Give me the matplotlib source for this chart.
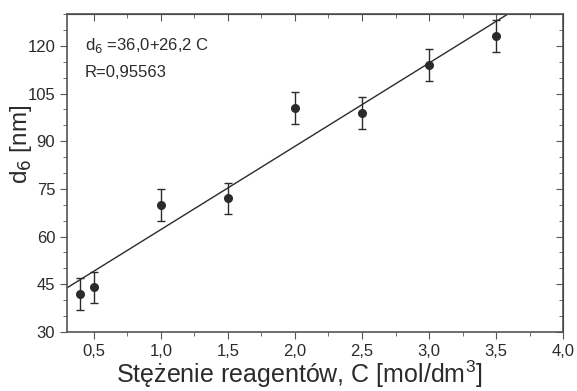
import matplotlib
matplotlib.use("Agg")
import matplotlib.pyplot as plt
import numpy as np
from matplotlib.ticker import MultipleLocator, FuncFormatter

plt.rcParams['font.family'] = ['Liberation Sans', 'DejaVu Sans']

# data
conc = [0.4, 0.5, 1.0, 1.5, 2.0, 2.5, 3.0, 3.5]
d6 = [42, 44, 70, 72, 100.5, 99, 114, 123]
err = [5, 5, 5, 5, 5, 5, 5, 5]
fit_a, fit_b = 36.0, 26.2
fit_x = [0.3, 4.0]

ink = '#2b2b2b'

fig = plt.figure(figsize=(5.77, 3.91), dpi=100)
ax = fig.add_axes([0.116, 0.151, 0.86, 0.813])

fx = np.array(fit_x)
ax.plot(fx, fit_a + fit_b * fx, color=ink, lw=1.0)
ax.errorbar(conc, d6, yerr=err, fmt='o', color=ink, ms=5.5, elinewidth=1.0,
            capsize=3, capthick=1.0)

ax.set_xlim(0.3, 4.0)
ax.set_ylim(30, 130)
ax.xaxis.set_major_locator(MultipleLocator(0.5))
ax.xaxis.set_minor_locator(MultipleLocator(0.25))
ax.yaxis.set_major_locator(MultipleLocator(15))
ax.yaxis.set_minor_locator(MultipleLocator(5))
ax.xaxis.set_major_formatter(FuncFormatter(lambda v, p: f"{v:.1f}".replace('.', ',')))

for s in ax.spines.values():
    s.set_color('#555555')
    s.set_linewidth(1.2)

ax.tick_params(which='both', direction='out', colors='#555555', labelcolor=ink,
               labelsize=12)
ax.tick_params(which='major', length=5)
ax.tick_params(which='minor', length=3)

axt = ax.secondary_xaxis('top')
axt.xaxis.set_major_locator(MultipleLocator(0.5))
axt.xaxis.set_minor_locator(MultipleLocator(0.25))
axt.tick_params(which='both', direction='in', colors='#555555', labeltop=False)
axt.tick_params(which='major', length=5)
axt.tick_params(which='minor', length=3)
axr = ax.secondary_yaxis('right')
axr.yaxis.set_major_locator(MultipleLocator(15))
axr.yaxis.set_minor_locator(MultipleLocator(5))
axr.tick_params(which='both', direction='in', colors='#555555', labelright=False)
axr.tick_params(which='major', length=5)
axr.tick_params(which='minor', length=3)

ax.set_xlabel('Stężenie reagentów, C [mol/dm$^{\\mathregular{3}}$]', fontsize=18,
              color=ink, labelpad=1)
ax.xaxis.set_label_coords(0.468, -0.085)
ax.set_ylabel('d$_6$ [nm]', fontsize=17.5, color=ink, labelpad=2)
ax.yaxis.set_label_coords(-0.066, 0.59)

ax.text(0.036, 0.90, 'd$_6$ =36,0+26,2 C', transform=ax.transAxes, fontsize=12,
        color=ink, va='center')
ax.text(0.036, 0.815, 'R=0,95563', transform=ax.transAxes, fontsize=12,
        color=ink, va='center')

fig.savefig('out.png', dpi=100)
